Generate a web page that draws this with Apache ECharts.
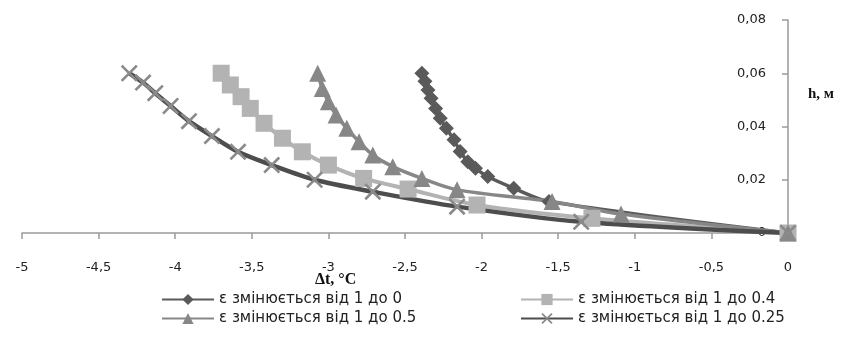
<!DOCTYPE html>
<html>
<head>
<meta charset="utf-8">
<script src="https://cdn.jsdelivr.net/npm/echarts@6/dist/echarts.min.js"></script>
<style>
  html, body { margin: 0; padding: 0; background: #fff; }
  #chart { width: 863px; height: 356px; }
</style>
</head>
<body>
<div id="chart"></div>
<script>
// назви серій
const names = [
  'ε змінюється від 1 до 0',
  'ε змінюється від 1 до 0.4',
  'ε змінюється від 1 до 0.5',
  'ε змінюється від 1 до 0.25'
];

// Δt, °C  /  h, м
const dt1 = [-2.39, -2.37, -2.35, -2.33, -2.30, -2.27, -2.23, -2.18, -2.14, -2.09, -2.04, -1.96, -1.79, -1.56, 0];
const h1  = [0.060, 0.057, 0.0537, 0.0506, 0.0468, 0.0431, 0.0393, 0.035, 0.0306, 0.0268, 0.0243, 0.0212, 0.0168, 0.0118, 0];

const dt2 = [-3.70, -3.64, -3.57, -3.51, -3.42, -3.30, -3.17, -3.00, -2.77, -2.48, -2.03, -1.28, 0];
const h2  = [0.060, 0.0556, 0.0512, 0.0468, 0.0412, 0.0356, 0.0305, 0.0255, 0.0205, 0.0165, 0.0105, 0.0055, 0];

const dt3 = [-3.07, -3.04, -3.00, -2.95, -2.88, -2.80, -2.71, -2.58, -2.39, -2.16, -1.54, -1.09, 0];
const h3  = [0.060, 0.0543, 0.0493, 0.0443, 0.0393, 0.0343, 0.0293, 0.0249, 0.0205, 0.0162, 0.0118, 0.0071, 0];

const dt4 = [-4.30, -4.21, -4.13, -4.03, -3.91, -3.76, -3.59, -3.37, -3.09, -2.71, -2.16, -1.35, 0];
const h4  = [0.060, 0.0565, 0.0525, 0.0477, 0.042, 0.0364, 0.0305, 0.0255, 0.020, 0.0155, 0.0099, 0.0042, 0];

const zip = (xs, ys) => xs.map((x, i) => [x, ys[i]]);

// хрестик як заповнена фігура
const cross = 'path://M0,1.1L1.1,0L10,8.9L8.9,10ZM8.9,0L10,1.1L1.1,10L0,8.9Z';

const chart = echarts.init(document.getElementById('chart'));

const txt = { fontFamily: 'DejaVu Sans', fontSize: 13, color: '#222' };
const legTxt = { fontFamily: 'DejaVu Sans', fontSize: 15, color: '#222' };

chart.setOption({
  animation: false,
  grid: { left: 22, right: 75, top: 20, bottom: 123 },
  xAxis: {
    type: 'value', min: -5, max: 0, interval: 0.5,
    axisLine: { onZero: false, lineStyle: { color: '#9a9a9a', width: 1.5 } },
    axisTick: { length: 6, lineStyle: { color: '#9a9a9a', width: 1.5 } },
    splitLine: { show: false },
    axisLabel: Object.assign({ margin: 28, formatter: v => String(v).replace('.', ',') }, txt)
  },
  yAxis: {
    type: 'value', min: 0, max: 0.08, interval: 0.02, position: 'right',
    axisLine: { show: true, lineStyle: { color: '#9a9a9a', width: 1.5 } },
    axisTick: { show: true, inside: true, length: 6, lineStyle: { color: '#9a9a9a', width: 1.5 } },
    splitLine: { show: false },
    axisLabel: Object.assign({ inside: true, margin: 22,
      formatter: v => v === 0 ? '0' : v.toFixed(2).replace('.', ',') }, txt)
  },
  legend: [
    { left: 156, top: 287, orient: 'vertical', itemWidth: 52, itemHeight: 14, itemGap: 4,
      data: [names[0], names[2]], textStyle: legTxt },
    { left: 515, top: 287, orient: 'vertical', itemWidth: 52, itemHeight: 14, itemGap: 4,
      data: [names[1], names[3]], textStyle: legTxt }
  ],
  graphic: [
    { type: 'text', left: 808, top: 87,
      style: { text: 'h, м', font: 'bold 15px "Liberation Serif"', fill: '#111' } },
    { type: 'text', left: 315, top: 272,
      style: { text: 'Δt, °C', font: 'bold 16px "Liberation Serif"', fill: '#111' } }
  ],
  series: [
    { name: names[0], type: 'line', smooth: 0.3, data: zip(dt1, h1),
      symbol: 'diamond', symbolSize: 15,
      lineStyle: { color: '#5a5a5a', width: 3.5 }, itemStyle: { color: '#5a5a5a' } },
    { name: names[1], type: 'line', smooth: 0.3, data: zip(dt2, h2),
      symbol: 'rect', symbolSize: 17,
      lineStyle: { color: '#b3b3b3', width: 4 }, itemStyle: { color: '#b3b3b3' } },
    { name: names[2], type: 'line', smooth: 0.3, data: zip(dt3, h3),
      symbol: 'triangle', symbolSize: 17,
      lineStyle: { color: '#878787', width: 3.5 }, itemStyle: { color: '#878787' } },
    { name: names[3], type: 'line', smooth: 0.3, data: zip(dt4, h4),
      symbol: cross, symbolSize: 17,
      lineStyle: { color: '#4d4d4d', width: 4.5 }, itemStyle: { color: '#8a8a8a' } }
  ]
});
</script>
</body>
</html>
